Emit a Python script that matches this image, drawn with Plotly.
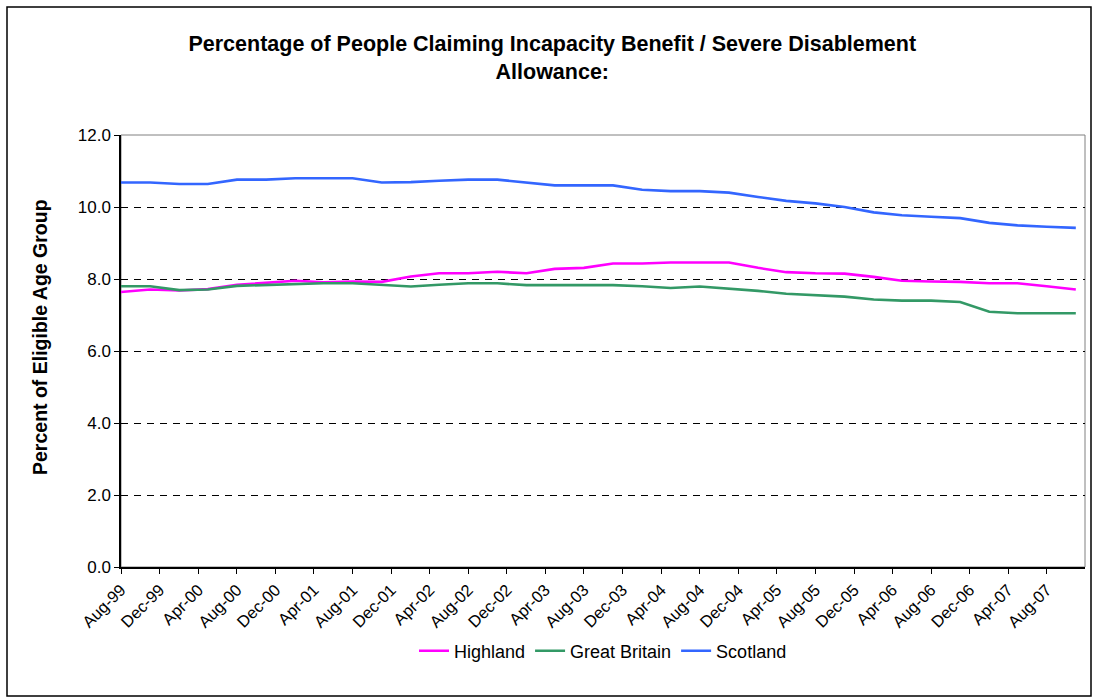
import plotly.graph_objects as go
import pandas as pd

# Quarterly observations, Aug-99 .. Nov-07
dates = pd.date_range("1999-08-01", periods=34, freq="3MS").strftime("%Y-%m-%d").tolist()

highland = [7.64, 7.71, 7.68, 7.72, 7.84, 7.89, 7.95, 7.91, 7.93, 7.92,
            8.07, 8.16, 8.16, 8.20, 8.16, 8.28, 8.31, 8.43, 8.43, 8.46,
            8.46, 8.46, 8.31, 8.19, 8.16, 8.15, 8.06, 7.95, 7.93, 7.92,
            7.88, 7.88, 7.80, 7.71]
great_britain = [7.80, 7.80, 7.69, 7.71, 7.81, 7.84, 7.85, 7.88, 7.88, 7.84,
                 7.79, 7.84, 7.88, 7.88, 7.83, 7.83, 7.83, 7.83, 7.80, 7.75,
                 7.79, 7.74, 7.67, 7.59, 7.56, 7.51, 7.43, 7.40, 7.40, 7.36,
                 7.09, 7.05, 7.05, 7.05]
scotland = [10.68, 10.68, 10.64, 10.64, 10.76, 10.76, 10.80, 10.80, 10.80, 10.68,
            10.69, 10.73, 10.76, 10.76, 10.67, 10.60, 10.60, 10.60, 10.48, 10.44,
            10.44, 10.40, 10.28, 10.17, 10.10, 10.00, 9.85, 9.77, 9.73, 9.69,
            9.56, 9.49, 9.45, 9.42]

series_names = ["Highland", "Great Britain", "Scotland"]
series_colors = ["#FF00FF", "#339966", "#3366FF"]

FONT = "Arial, Liberation Sans, sans-serif"

fig = go.Figure()
for name, vals, col in zip(series_names, [highland, great_britain, scotland], series_colors):
    fig.add_trace(go.Scatter(x=dates, y=vals, mode="lines", name=name,
                             line=dict(color=col, width=2.6)))

W, H = 1098, 698
L, R, T, B = 121, 13, 135, 131
pw, ph = W - L - R, H - T - B

def px_x(p):
    return (p - L) / pw

def px_y(p):
    return (H - B - p) / ph

fig.update_layout(
    width=W, height=H,
    margin=dict(l=L, r=R, t=T, b=B),
    paper_bgcolor="white", plot_bgcolor="white",
    font=dict(family=FONT, color="black", size=17),
    title=dict(text="<b>Percentage of People Claiming Incapacity Benefit / Severe Disablement<br>Allowance:</b>",
               x=0.503, xref="container", xanchor="center",
               y=1 - 51 / H, yref="container", yanchor="middle",
               font=dict(size=21.5, family=FONT)),
    showlegend=True,
    legend=dict(orientation="h", x=0.5, xanchor="center", y=px_y(651), yanchor="middle",
                font=dict(size=18, family=FONT), bgcolor="rgba(0,0,0,0)",
                itemwidth=30, tracegroupgap=0),
    xaxis=dict(type="date", range=["1999-08-01", "2007-11-30"],
               tick0="1999-08-01", dtick="M4", tickformat="%b-%y",
               tickangle=-45, tickfont=dict(size=16.5, family=FONT),
               ticks="outside", ticklen=5, tickcolor="black",
               showline=True, linecolor="black", linewidth=1.5,
               showgrid=False, zeroline=False),
    yaxis=dict(range=[0, 12], dtick=2, tickformat=".1f",
               tickfont=dict(size=17, family=FONT),
               ticks="outside", ticklen=5, tickcolor="black",
               showline=True, linecolor="black", linewidth=1.5,
               showgrid=True, gridcolor="black", gridwidth=1, griddash="7px,6px",
               zeroline=False),
)

# y-axis title as annotation (positioned as in reference)
fig.add_annotation(text="<b>Percent of Eligible Age Group</b>", textangle=-90,
                   xref="paper", yref="paper", x=px_x(40), y=px_y(337),
                   xanchor="center", yanchor="middle", showarrow=False,
                   font=dict(size=19.5, family=FONT, color="black"))

# plot area border (gray, top/right)
fig.add_shape(type="rect", xref="paper", yref="paper", x0=0, y0=0, x1=1, y1=1,
              line=dict(color="#808080", width=1), layer="below")
# chart area border
fig.add_shape(type="rect", xref="paper", yref="paper",
              x0=px_x(7), x1=px_x(1091), y0=px_y(696), y1=px_y(7),
              line=dict(color="black", width=1.5))

fig.write_html("out.html")
